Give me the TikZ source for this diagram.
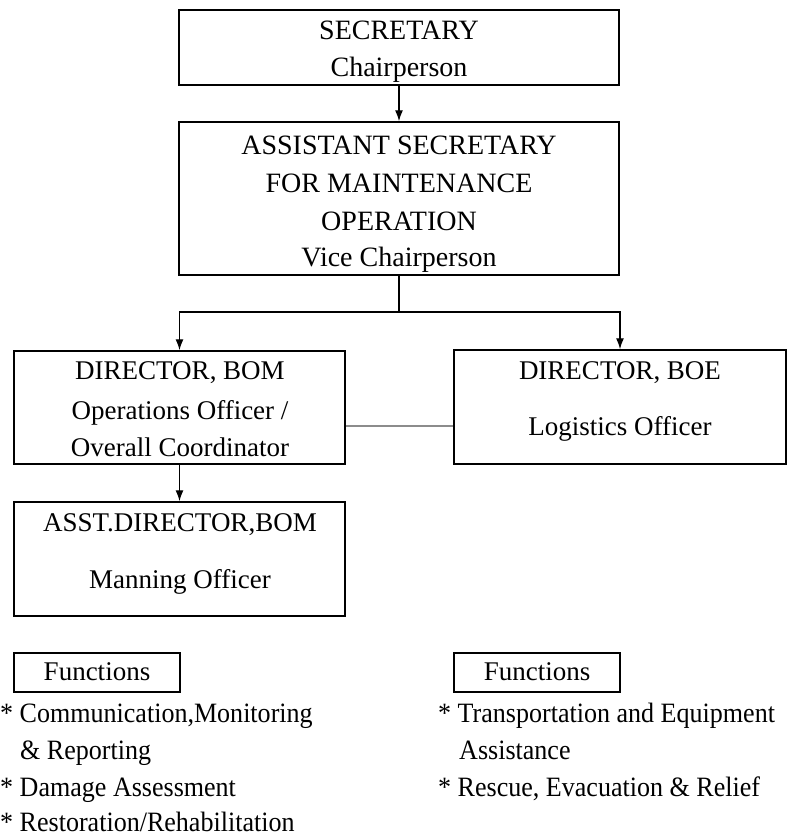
\documentclass[tikz,border=0pt]{standalone}
\usepackage{fontspec}
\setmainfont{Liberation Serif}
\newfontfamily\listfont{Liberation Serif}[FakeStretch=0.93]
\usetikzlibrary{arrows.meta}

\tikzset{
  box/.style={draw=black, line width=1.5pt, rectangle, inner sep=0pt},
  lbl/.style={anchor=base, inner sep=0pt, font=\fontsize{27}{32}\selectfont},
  toplbl/.style={lbl, font=\fontsize{28}{34}\selectfont},
  item/.style={anchor=base west, inner sep=0pt, font=\listfont\fontsize{28}{34}\selectfont},
  arr/.style={line width=1.3pt, -{Latex[length=11pt,width=8pt]}},
  link/.style={line width=1.3pt},
  peer/.style={line width=2pt, draw=black!45}
}

\begin{document}
\begin{tikzpicture}[x=1pt,y=-1pt]
\useasboundingbox (0,0) rectangle (795,838);

% boxes
\node[box, minimum width=440pt, minimum height=75pt]  (sec)   at (399,47.5)  {};
\node[box, minimum width=440pt, minimum height=153pt] (asst)  at (399,198.5) {};
\node[box, minimum width=331pt, minimum height=113pt] (bom)   at (179.5,407.5) {};
\node[box, minimum width=332pt, minimum height=114pt] (boe)   at (620,407) {};
\node[box, minimum width=331pt, minimum height=114pt] (asstd) at (179.5,559) {};
\node[box, minimum width=166pt, minimum height=39pt]  (funA)  at (97,672.5) {};
\node[box, minimum width=166pt, minimum height=39pt]  (funB)  at (537,672.5) {};

% box titles
\node[toplbl] (sec-a) at (399,39.3) {SECRETARY};
\node[toplbl] (sec-b) at (399,76) {Chairperson};
\node[toplbl] (asst-a) at (399,154) {ASSISTANT SECRETARY};
\node[toplbl] (asst-b) at (399,192.7) {FOR MAINTENANCE};
\node[toplbl] (asst-c) at (399,230) {OPERATION};
\node[toplbl] (asst-d) at (399,266.7) {Vice Chairperson};
\node[lbl] (bom-a) at (180,379.3) {DIRECTOR, BOM};
\node[lbl] (bom-b) at (180,419.3) {Operations Officer /};
\node[lbl] (bom-c) at (180,456.7) {Overall Coordinator};
\node[lbl] (boe-a) at (620,379.3) {DIRECTOR, BOE};
\node[lbl] (boe-b) at (620,435.7) {Logistics Officer};
\node[lbl] (asstd-a) at (180,531) {ASST.DIRECTOR,BOM};
\node[lbl] (asstd-b) at (180,588.3) {Manning Officer};
\node[lbl] (funA-t) at (97,680.7) {Functions};
\node[lbl] (funB-t) at (537,680.7) {Functions};

% function lists
\node[item] (la1) at (0,722)   {* Communication,Monitoring};
\node[item] (la2) at (20,759) {\& Reporting};
\node[item] (la3) at (0,796)   {* Damage Assessment};
\node[item] (la4) at (0,831.5) {* Restoration/Rehabilitation};
\node[item] (lb1) at (438,722)   {* Transportation and Equipment};
\node[item] (lb2) at (459,759) {Assistance};
\node[item] (lb3) at (438,796)   {* Rescue, Evacuation \& Relief};

% connectors
\coordinate (split) at (399,312);
\coordinate (peerline) at (400,426);
\draw[arr] (sec) -- (asst);
\draw[link] (asst.south) -- (split);
\draw[arr] (split) -| (bom.north);
\draw[arr] (split) -| (boe.north);
\draw[arr] (bom) -- (asstd);
\draw[peer] (bom.east |- peerline) -- (boe.west |- peerline);
\end{tikzpicture}
\end{document}
